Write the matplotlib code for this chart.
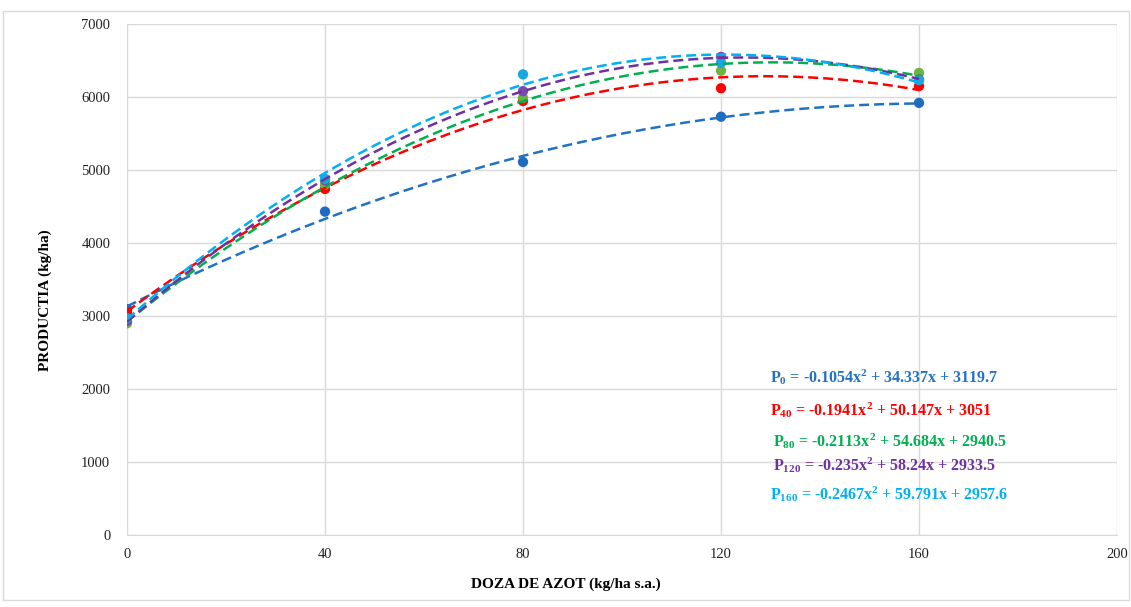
import matplotlib
matplotlib.use("Agg")
from matplotlib import pyplot as plt
from matplotlib.patches import Rectangle
import numpy as np

# doza de azot (kg/ha s.a.)
doza = [0, 40, 80, 120, 160]

# productia (kg/ha)
p0 = [3095, 4430, 5110, 5730, 5920]
p40 = [3050, 4740, 5945, 6120, 6150]
p80 = [2900, 4800, 5990, 6360, 6330]
p120 = [2930, 4860, 6080, 6550, 6240]
p160 = [2970, 4880, 6310, 6470, 6230]

serii = [p0, p40, p80, p120, p160]
culori_linie = ["#1F72C4", "#FF0000", "#00B050", "#7030A0", "#00B0F0"]
culori_punct = ["#1F6BBF", "#FF0000", "#6DB33F", "#7A4BAE", "#1AA7E0"]

ecuatii = [
    "P$_{0}$ = -0.1054x$^{2}$ + 34.337x + 3119.7",
    "P$_{40}$ = -0.1941x$^{2}$ + 50.147x + 3051",
    "P$_{80}$ = -0.2113x$^{2}$ + 54.684x + 2940.5",
    "P$_{120}$ = -0.235x$^{2}$ + 58.24x + 2933.5",
    "P$_{160}$ = -0.2467x$^{2}$ + 59.791x + 2957.6",
]
ecuatii_xy = [(770, 377), (770, 410), (773, 441), (773, 465), (770, 494)]

plt.rcParams["font.family"] = "Liberation Serif"
plt.rcParams["mathtext.fontset"] = "custom"
plt.rcParams["mathtext.rm"] = "Liberation Serif:bold"
plt.rcParams["mathtext.it"] = "Liberation Serif:bold"
plt.rcParams["mathtext.bf"] = "Liberation Serif:bold"

W, H = 1131, 607
fig = plt.figure(figsize=(W / 100, H / 100), dpi=100)
ax = fig.add_axes([127 / W, 1 - 535 / H, (1117 - 127) / W, (535 - 24) / H])

xs = np.linspace(0, 160, 200)
for y, cl, cp in zip(serii, culori_linie, culori_punct):
    ax.scatter(doza, y, s=55, color=cp, zorder=3, edgecolors="none")
    coef = np.polyfit(doza, y, 2)
    ax.plot(xs, np.polyval(coef, xs), color=cl, lw=1.8, ls=(0, (4, 2)), zorder=4)

ax.set_xlim(0, 200)
ax.set_ylim(0, 7000)
ax.set_xticks(range(0, 201, 40))
ax.set_yticks(range(0, 7001, 1000))
ax.grid(True, color="#D9D9D9", lw=1)
ax.set_axisbelow(True)
for s in ["top", "right"]:
    ax.spines[s].set_visible(False)
for s in ["left", "bottom"]:
    ax.spines[s].set_color("#D9D9D9")
ax.tick_params(length=0, labelsize=10.5, colors="#222222", pad=9)
ax.tick_params(axis="y", pad=12)

for txt, (px, py), c in zip(ecuatii, ecuatii_xy, culori_linie):
    fig.text(px / W, 1 - py / H, txt, color=c, fontsize=11.5, fontweight="bold",
             va="center", ha="left")

fig.text(566 / W, 1 - 584 / H, "DOZA DE AZOT (kg/ha s.a.)", fontsize=11,
         fontweight="bold", ha="center", va="center")
fig.text(45 / W, 1 - 300 / H, "PRODUCTIA (kg/ha)", fontsize=11,
         fontweight="bold", ha="center", va="center", rotation=90)

fig.patches.append(Rectangle((3 / W, 1 - 600 / H), 1126 / W, 589 / H,
                             transform=fig.transFigure, fill=False,
                             edgecolor="#D9D9D9", lw=1))

fig.savefig("out.png", dpi=100)
